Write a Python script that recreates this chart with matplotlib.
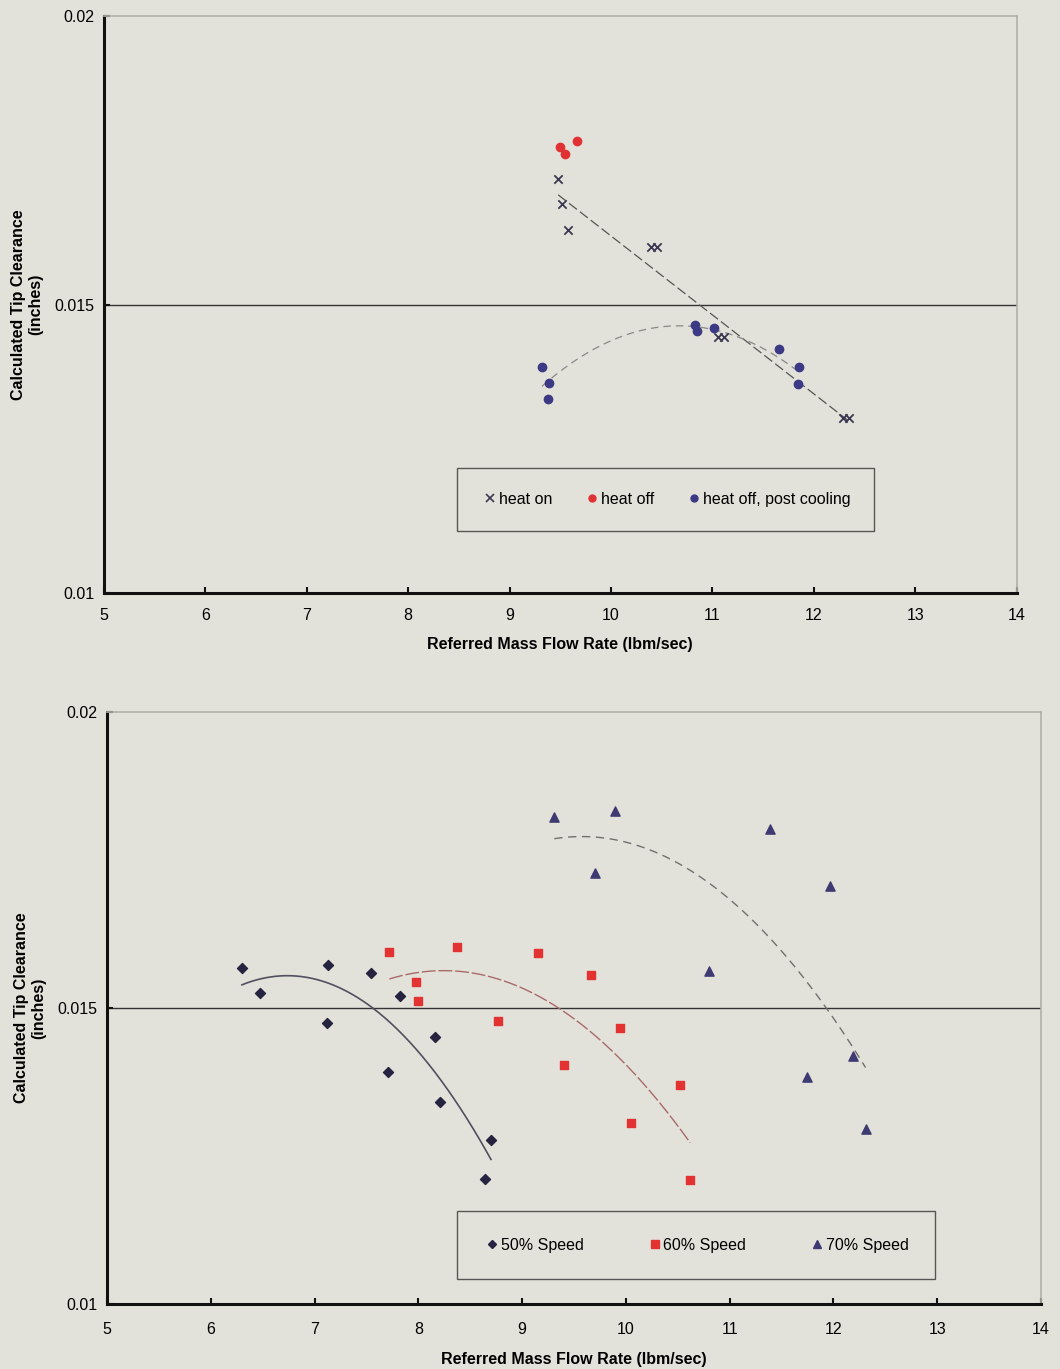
import numpy as np
import matplotlib
matplotlib.use("Agg")
import matplotlib.pyplot as plt
from matplotlib.lines import Line2D

plt.rcParams['font.family'] = ['Liberation Sans', 'DejaVu Sans']

# ---- Top chart data ----
heat_on_x = [9.48, 9.52, 9.58, 10.40, 10.45, 11.06, 11.12, 12.29, 12.35]
heat_on_y = [0.01718, 0.01674, 0.01629, 0.01600, 0.01600, 0.01444, 0.01444, 0.01304, 0.01304]

heat_off_x = [9.50, 9.55, 9.67]
heat_off_y = [0.01773, 0.01761, 0.01783]

post_cool_x = [9.32, 9.39, 9.38, 10.83, 10.85, 11.02, 11.66, 11.85, 11.84]
post_cool_y = [0.01392, 0.01364, 0.01337, 0.01464, 0.01455, 0.01460, 0.01423, 0.01392, 0.01363]

# ---- Bottom chart data ----
s50_x = [6.30, 6.47, 7.13, 7.12, 7.54, 7.82, 7.71, 8.16, 8.21, 8.70, 8.64]
s50_y = [0.01568, 0.01525, 0.01573, 0.01474, 0.01559, 0.01520, 0.01392, 0.01451, 0.01341, 0.01277, 0.01211]

s60_x = [7.72, 8.37, 9.15, 9.66, 7.98, 8.00, 8.77, 9.94, 9.40, 10.52, 10.05, 10.62]
s60_y = [0.01594, 0.01603, 0.01593, 0.01556, 0.01543, 0.01511, 0.01478, 0.01466, 0.01404, 0.01370, 0.01305, 0.01209]

s70_x = [9.31, 9.90, 9.70, 11.39, 11.97, 10.80, 12.19, 11.75, 12.31]
s70_y = [0.01823, 0.01833, 0.01728, 0.01802, 0.01706, 0.01563, 0.01419, 0.01383, 0.01295]

x_ticks = [5, 6, 7, 8, 9, 10, 11, 12, 13, 14]
y_ticks = [0.01, 0.015, 0.02]
y_tick_labels = ['0.01', '0.015', '0.02']

BG = '#e3e2da'

fig = plt.figure(figsize=(10.6, 13.69), dpi=100, facecolor=BG)


def style_axes(ax, xpad, lpad):
    ax.set_facecolor(BG)
    ax.set_xlim(5, 14)
    ax.set_ylim(0.01, 0.02)
    ax.set_xticks(x_ticks)
    ax.set_xticklabels([str(t) for t in x_ticks], fontsize=11.5)
    ax.set_yticks(y_ticks)
    ax.set_yticklabels(y_tick_labels, fontsize=11.5)
    ax.tick_params(direction='in', length=4, width=1.5, color='#111111')
    ax.tick_params(axis='x', pad=xpad)
    ax.tick_params(axis='y', pad=7)
    for s in ['left', 'bottom']:
        ax.spines[s].set_linewidth(2.2)
        ax.spines[s].set_color('#111111')
    for s in ['top', 'right']:
        ax.spines[s].set_linewidth(1.2)
        ax.spines[s].set_color('#b0b0a8')
    ax.axhline(0.015, color='#333333', lw=1.0, zorder=1)
    ax.set_xlabel('Referred Mass Flow Rate (lbm/sec)', fontsize=11.5, fontweight='bold', labelpad=lpad)
    ax.set_ylabel('Calculated Tip Clearance\n(inches)', fontsize=11.5, fontweight='bold', labelpad=8)


def trend(ax, x, y, deg, color, ls='-', lw=1.0):
    c = np.polyfit(x, y, deg)
    xs = np.linspace(min(x), max(x), 200)
    ax.plot(xs, np.polyval(c, xs), color=color, lw=lw, ls=ls, zorder=2)


def make_legend(ax, handles, labels, bbox, bpad):
    leg = ax.legend(handles, labels, ncol=3, loc='lower left', bbox_to_anchor=bbox,
                    mode='expand', borderaxespad=0.0, frameon=True, fancybox=False,
                    fontsize=11.5, handletextpad=0.0, handlelength=1.1, borderpad=bpad,
                    columnspacing=1.0)
    leg.get_frame().set_facecolor(BG)
    leg.get_frame().set_edgecolor('#333333')
    leg.get_frame().set_linewidth(1.0)
    return leg


# ---- Top axes ----
ax1 = fig.add_axes([0.098, 0.567, 0.861, 0.421])
style_axes(ax1, 11, 10)
trend(ax1, heat_on_x, heat_on_y, 1, '#555555', ls=(0, (8, 3)), lw=0.9)
trend(ax1, post_cool_x, post_cool_y, 2, '#888888', ls=(0, (6, 4)), lw=0.9)
ax1.scatter(heat_on_x, heat_on_y, marker='x', s=36, color='#3a3850', linewidths=1.3, zorder=3)
ax1.scatter(heat_off_x, heat_off_y, marker='o', s=36, color='#e03232', zorder=3)
ax1.scatter(post_cool_x, post_cool_y, marker='o', s=36, color='#3d3a85', zorder=3)

h1 = [Line2D([], [], ls='none', marker='x', ms=6, color='#3a3850', mew=1.2),
      Line2D([], [], ls='none', marker='o', ms=5, color='#e03232'),
      Line2D([], [], ls='none', marker='o', ms=5, color='#3d3a85')]
make_legend(ax1, h1, ['heat on', 'heat off', 'heat off, post cooling'],
            (0.387, 0.1075, 0.457, 0.111), 1.5)

# ---- Bottom axes ----
ax2 = fig.add_axes([0.101, 0.0475, 0.881, 0.4325])
style_axes(ax2, 13, 11)
trend(ax2, s50_x, s50_y, 2, '#505060', lw=1.2)
trend(ax2, s60_x, s60_y, 2, '#a86a6a', ls=(0, (10, 2)), lw=1.0)
trend(ax2, s70_x, s70_y, 2, '#707070', ls=(0, (6, 4)), lw=1.0)
ax2.scatter(s50_x, s50_y, marker='D', s=26, color='#25233f', zorder=3)
ax2.scatter(s60_x, s60_y, marker='s', s=40, color='#e23232', zorder=3)
ax2.scatter(s70_x, s70_y, marker='^', s=44, color='#3e3a72', zorder=3)

h2 = [Line2D([], [], ls='none', marker='D', ms=4.5, color='#25233f'),
      Line2D([], [], ls='none', marker='s', ms=5.5, color='#e23232'),
      Line2D([], [], ls='none', marker='^', ms=5.5, color='#3e3a72')]
make_legend(ax2, h2, ['50% Speed', '60% Speed', '70% Speed'],
            (0.3747, 0.0422, 0.5118, 0.113), 1.65)

fig.savefig('out.png', dpi=100, facecolor=BG)
